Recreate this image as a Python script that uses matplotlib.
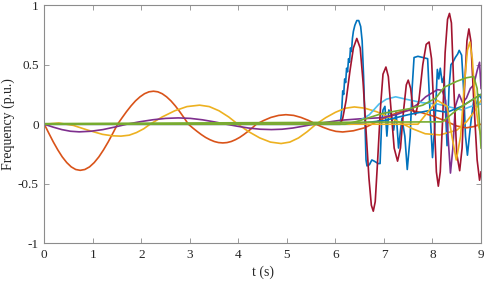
import matplotlib
matplotlib.use("Agg")
import matplotlib.pyplot as plt

# MATLAB default colour order
C_BLUE = (0.000, 0.447, 0.741)
C_ORANGE = (0.850, 0.325, 0.098)
C_YELLOW = (0.929, 0.694, 0.125)
C_PURPLE = (0.494, 0.184, 0.556)
C_GREEN = (0.466, 0.674, 0.188)
C_LBLUE = (0.301, 0.745, 0.933)
C_RED = (0.635, 0.078, 0.184)

# ---- data ----
blue_t = [0, 6.10, 6.13, 6.15, 6.17, 6.19, 6.21, 6.23, 6.25, 6.27, 6.29, 6.31, 6.33, 6.35,
          6.37, 6.40, 6.44, 6.48, 6.52, 6.55, 6.58, 6.61, 6.63, 6.65, 6.70, 6.75, 6.80, 6.88,
          6.92, 6.95, 6.98, 7.02, 7.06, 7.10, 7.15, 7.20, 7.25, 7.30, 7.37, 7.43, 7.48, 7.54,
          7.58, 7.62, 7.70, 7.80, 7.90, 7.95, 8.00, 8.05, 8.10, 8.13, 8.16, 8.20, 8.24, 8.27,
          8.30, 8.34, 8.38, 8.42, 8.47, 8.52, 8.55, 8.60, 8.64, 8.68, 8.72, 8.76, 8.80, 8.85,
          8.90, 8.95, 9.00]
blue_y = [0, 0.0, 0.12, 0.28, 0.25, 0.38, 0.35, 0.47, 0.44, 0.55, 0.52, 0.64, 0.61, 0.72,
          0.78, 0.83, 0.87, 0.87, 0.82, 0.70, 0.40, 0.0, -0.30, -0.35, -0.34, -0.30, -0.31, -0.33,
          -0.33, 0.0, 0.12, 0.15, -0.10, 0.12, 0.08, -0.05, 0.10, -0.20, 0.05, -0.10, -0.38, -0.10,
          0.30, 0.56, 0.57, 0.56, 0.55, 0.10, -0.28, 0.0, 0.46, 0.38, 0.47, 0.35, 0.40, 0.10,
          -0.18, 0.30, 0.50, 0.52, 0.56, 0.59, 0.62, 0.58, 0.30, -0.10, -0.26, -0.10, 0.05, 0.20,
          0.15, 0.25, 0.22]

orange_t = [0, 0.093, 0.185, 0.278, 0.37, 0.463, 0.555, 0.648, 0.74,
            0.836, 0.933, 1.029, 1.125, 1.221, 1.318, 1.414, 1.51,
            1.603, 1.695, 1.788, 1.88, 1.973, 2.065, 2.158, 2.25,
            2.34, 2.43, 2.52, 2.61, 2.70, 2.79, 2.88, 2.97,
            3.059, 3.148, 3.236, 3.325, 3.414, 3.503, 3.591, 3.68,
            3.766, 3.853, 3.939, 4.025, 4.111, 4.198, 4.284, 4.37,
            4.52, 4.67, 4.83, 4.98, 5.14, 5.29, 5.45, 5.60, 5.74, 5.88, 6.01, 6.15, 6.37,
            6.60, 6.80, 7.00, 7.17, 7.34, 7.52, 7.75, 8.00, 8.25, 8.50, 8.70, 8.85, 9.00]
orange_y = [0, -0.075, -0.148, -0.215, -0.274, -0.322, -0.358, -0.380, -0.387,
            -0.380, -0.358, -0.322, -0.274, -0.215, -0.148, -0.075, 0,
            0.054, 0.106, 0.154, 0.196, 0.230, 0.256, 0.272, 0.277,
            0.272, 0.256, 0.230, 0.196, 0.154, 0.106, 0.054, 0,
            -0.031, -0.060, -0.087, -0.111, -0.130, -0.145, -0.154, -0.157,
            -0.154, -0.145, -0.130, -0.111, -0.087, -0.060, -0.031, 0,
            0.031, 0.057, 0.074, 0.080, 0.074, 0.057, 0.031, 0, -0.025, -0.046, -0.060, -0.065,
            -0.055, -0.030, 0.010, 0.050, 0.080, 0.105, 0.117, 0.100, 0.070, 0.030, -0.015, -0.030,
            -0.020, 0.0]

yellow_t = [0, 0.30, 0.60, 0.90, 1.20, 1.40, 1.58, 1.75, 1.90, 2.05, 2.18, 2.43, 2.69, 2.94,
            3.20, 3.40, 3.60, 3.80, 3.99, 4.21, 4.44, 4.66, 4.88, 5.06, 5.24, 5.42, 5.60, 5.80,
            6.00, 6.20, 6.39, 6.60, 6.85, 7.10, 7.35, 7.60, 7.85, 8.15, 8.50, 8.70, 8.85, 9.00]
yellow_y = [0, 0.010, -0.010, -0.050, -0.085, -0.097, -0.100, -0.092, -0.070, -0.038, 0, 0.061,
            0.113, 0.148, 0.160, 0.148, 0.113, 0.061, 0, -0.062, -0.115, -0.150, -0.162, -0.150,
            -0.115, -0.062, 0, 0.055, 0.100, 0.134, 0.145, 0.135, 0.105, 0.060, 0.010, -0.040,
            -0.080, -0.090, -0.050, 0.020, 0.100, 0.200]

purple_t = [0, 0.18, 0.36, 0.54, 0.72, 0.96, 1.21, 1.45, 1.70, 1.96, 2.23, 2.50, 2.76, 3.01,
            3.26, 3.50, 3.75, 3.98, 4.21, 4.45, 4.68, 4.90, 5.12, 5.33, 5.55, 5.80, 6.10, 6.50,
            6.96, 7.25, 7.52, 7.70, 7.86, 8.10, 8.20, 8.27, 8.32, 8.37, 8.42, 8.47, 8.55, 8.62,
            8.70, 8.78, 8.85, 8.92, 8.97, 9.00]
purple_y = [0, -0.024, -0.045, -0.059, -0.064, -0.059, -0.045, -0.024, 0, 0.020, 0.037, 0.049,
            0.053, 0.049, 0.037, 0.020, 0, -0.017, -0.032, -0.042, -0.045, -0.042, -0.032, -0.017,
            0, 0.015, 0.033, 0.045, 0.055, 0.080, 0.120, 0.170, 0.230, 0.290, 0.285, 0.200,
            -0.100, -0.410, -0.200, 0.150, 0.250, 0.180, 0.220, 0.300, 0.330, 0.450, 0.520, 0.300]

green_t = [0, 6.20, 6.50, 6.96, 7.52, 7.80, 8.07, 8.24, 8.50, 8.70, 8.85, 8.92, 8.97, 9.00]
green_y = [0, 0.0, 0.030, 0.090, 0.130, 0.160, 0.220, 0.310, 0.360, 0.390, 0.400, 0.300,
           0.000, -0.200]

lblue_t = [0, 6.35, 6.50, 6.70, 6.90, 7.05, 7.24, 7.45, 7.80, 8.10, 8.40, 8.60, 8.80, 9.00]
lblue_y = [0, 0.0, 0.030, 0.080, 0.170, 0.210, 0.230, 0.210, 0.180, 0.170, 0.140, 0.120,
           0.150, 0.170]

red_t = [0, 6.10, 6.15, 6.22, 6.30, 6.37, 6.44, 6.51, 6.57, 6.63, 6.69, 6.74, 6.78, 6.82,
         6.87, 6.93, 6.98, 7.04, 7.09, 7.15, 7.21, 7.28, 7.34, 7.40, 7.46, 7.50, 7.55, 7.60,
         7.65, 7.72, 7.80, 7.87, 7.93, 7.98, 8.03, 8.08, 8.12, 8.16, 8.21, 8.26, 8.31, 8.35,
         8.39, 8.44, 8.50, 8.56, 8.61, 8.66, 8.71, 8.75, 8.79, 8.85, 8.92, 8.97, 9.00]
red_y = [0, 0.0, 0.05, 0.20, 0.45, 0.64, 0.72, 0.64, 0.35, -0.05, -0.45, -0.68, -0.73, -0.65,
         -0.30, 0.15, 0.42, 0.48, 0.40, 0.10, -0.20, -0.31, -0.20, 0.10, 0.33, 0.37, 0.30, 0.12,
         0.08, 0.20, 0.50, 0.67, 0.69, 0.55, 0.10, -0.40, -0.52, -0.40, 0.05, 0.60, 0.88, 0.93,
         0.85, 0.30, -0.25, -0.39, -0.20, 0.30, 0.70, 0.80, 0.70, 0.20, -0.30, -0.47, -0.40]

blue2_t = [0, 6.30, 7.00, 7.50, 8.00, 8.30, 8.60, 9.00]
blue2_y = [0, 0.0, 0.030, 0.080, 0.120, 0.100, 0.150, 0.250]

yellow2_t = [0, 7.70, 7.90, 8.10, 8.30, 8.40, 8.49, 8.58, 8.66, 8.72, 8.77, 8.82, 8.88, 8.94, 9.00]
yellow2_y = [0, 0.0, 0.100, 0.200, 0.150, -0.100, -0.300, -0.100, 0.350, 0.620, 0.690, 0.550,
             0.200, 0.000, -0.100]

green2_t = [0, 8.20, 8.50, 8.80, 9.00]
green2_y = [0.005, 0.02, 0.120, 0.200, 0.250]

series = [
    (blue_t, blue_y, C_BLUE),
    (orange_t, orange_y, C_ORANGE),
    (yellow_t, yellow_y, C_YELLOW),
    (purple_t, purple_y, C_PURPLE),
    (lblue_t, lblue_y, C_LBLUE),
    (red_t, red_y, C_RED),
    (blue2_t, blue2_y, C_BLUE),
    (yellow2_t, yellow2_y, C_YELLOW),
    (green_t, green_y, C_GREEN),
    (green2_t, green2_y, C_GREEN),
]

plt.rcParams['font.family'] = ['Liberation Serif', 'DejaVu Serif']

fig = plt.figure(figsize=(4.85, 2.82), dpi=100)
ax = fig.add_axes([0.0913, 0.137, 0.9005, 0.845])

for t, y, c in series:
    ax.plot(t, y, color=c, lw=1.2)

ax.set_xlim(0, 9)
ax.set_ylim(-1, 1)
ax.set_xticks(range(0, 10))
ax.set_yticks([-1, -0.5, 0, 0.5, 1])
ax.set_yticklabels(['-1', '-0.5', '0', '0.5', '1'])
ax.tick_params(direction='in', length=3.5, width=0.6, top=True, right=True,
               labelsize=9.5, colors='#262626', pad=4)
for s in ax.spines.values():
    s.set_color('#8c8c8c')
    s.set_linewidth(0.8)
ax.tick_params(which='both', color='#8c8c8c')

ax.set_xlabel('t (s)', fontsize=10, color='#262626', labelpad=3)
ax.set_ylabel('Frequency (p.u.)', fontsize=10, color='#262626', labelpad=2)

fig.savefig('out.png', dpi=100)
